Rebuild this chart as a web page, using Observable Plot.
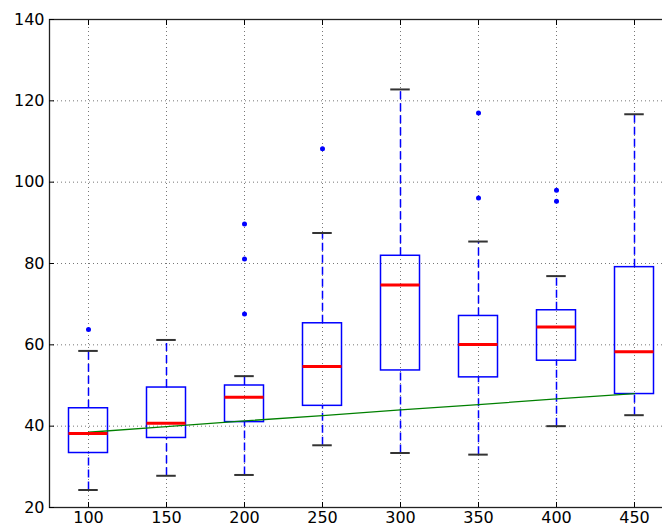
<!DOCTYPE html>
<html><head><meta charset="utf-8">
<script src="https://cdn.jsdelivr.net/npm/d3@7"></script>
<script src="https://cdn.jsdelivr.net/npm/@observablehq/plot@0.6"></script>
<style>html,body{margin:0;padding:0;background:#fff;overflow:hidden}</style>
</head><body><div id="chart"></div>
<script>
const categories = ["100", "150", "200", "250", "300", "350", "400", "450"];
const whiskerLow = [24.3, 27.8, 28.0, 35.3, 33.4, 33.0, 40.0, 42.7];
const q1 = [33.4, 37.1, 41.0, 45.0, 53.7, 52.0, 56.1, 47.9];
const median = [38.2, 40.7, 47.1, 54.7, 74.7, 60.1, 64.4, 58.3];
const q3 = [44.4, 49.5, 50.0, 65.3, 81.9, 67.1, 68.5, 79.1];
const whiskerHigh = [58.5, 61.2, 52.3, 87.5, 122.8, 85.4, 76.9, 116.7];
const outlierCats = ["100", "200", "200", "200", "250", "350", "350", "400", "400"];
const outlierValues = [63.8, 67.6, 81.1, 89.7, 108.2, 96.1, 117.0, 95.3, 98.0];
const trend = [38.5, 39.9, 41.3, 42.6, 44.0, 45.3, 46.7, 48.0];
const yTicks = [20, 40, 60, 80, 100, 120, 140];

const pos = categories.map((c, i) => i + 1);
const boxes = categories.map((c, i) => ({
  i: i + 1, lo: whiskerLow[i], q1: q1[i], med: median[i], q3: q3[i], hi: whiskerHigh[i]
}));
const fliers = outlierCats.map((c, k) => ({i: categories.indexOf(c) + 1, v: outlierValues[k]}));
const trendData = categories.map((c, i) => ({i: i + 1, v: trend[i]}));

const BW = 0.25, CW = 0.125;
const grid = {stroke: "#777", strokeWidth: 1, strokeDasharray: "1,3"};
const whisk = {stroke: "#0000ff", strokeWidth: 1.5, strokeDasharray: "8,4"};

const chart = Plot.plot({
  width: 662, height: 527,
  marginLeft: 49, marginRight: -11, marginTop: 19, marginBottom: 20,
  style: {fontFamily: "DejaVu Sans", fontSize: "16px", color: "#000", background: "#fff", overflow: "hidden"},
  x: {type: "linear", domain: [0.5, categories.length + 0.5]},
  y: {domain: [20, 140]},
  marks: [
    Plot.ruleX(pos, {x: d => d, ...grid}),
    Plot.ruleY(yTicks, {y: d => d, ...grid}),
    Plot.ruleX(boxes, {x: "i", y1: "q3", y2: "hi", ...whisk}),
    Plot.ruleX(boxes, {x: "i", y1: "lo", y2: "q1", ...whisk}),
    Plot.rect(boxes, {x1: d => d.i - BW, x2: d => d.i + BW, y1: "q1", y2: "q3", fill: "none", stroke: "#0000ff", strokeWidth: 1.5}),
    Plot.ruleY(boxes, {y: "hi", x1: d => d.i - CW, x2: d => d.i + CW, stroke: "#333", strokeWidth: 2}),
    Plot.ruleY(boxes, {y: "lo", x1: d => d.i - CW, x2: d => d.i + CW, stroke: "#333", strokeWidth: 2}),
    Plot.line(trendData, {x: "i", y: "v", stroke: "#008000", strokeWidth: 1.3}),
    Plot.ruleY(boxes, {y: "med", x1: d => d.i - BW, x2: d => d.i + BW, stroke: "#ff0000", strokeWidth: 3}),
    Plot.dot(fliers, {x: "i", y: "v", r: 2.5, fill: "#0000ff"}),
    Plot.frame({stroke: "#222", strokeWidth: 1.3}),
    Plot.axisX({ticks: pos, tickSize: 0, tickPadding: 4, label: null, tickFormat: i => categories[i - 1]}),
    Plot.axisX({ticks: pos, anchor: "bottom", tickSize: -5, label: null, tickFormat: () => ""}),
    Plot.axisX({ticks: pos, anchor: "top", tickSize: -5, label: null, tickFormat: () => ""}),
    Plot.axisY({ticks: yTicks, tickSize: 0, tickPadding: 5, label: null}),
    Plot.axisY({ticks: yTicks, tickSize: -5, label: null, tickFormat: () => ""})
  ]
});
document.getElementById("chart").appendChild(chart);
</script>
</body></html>
